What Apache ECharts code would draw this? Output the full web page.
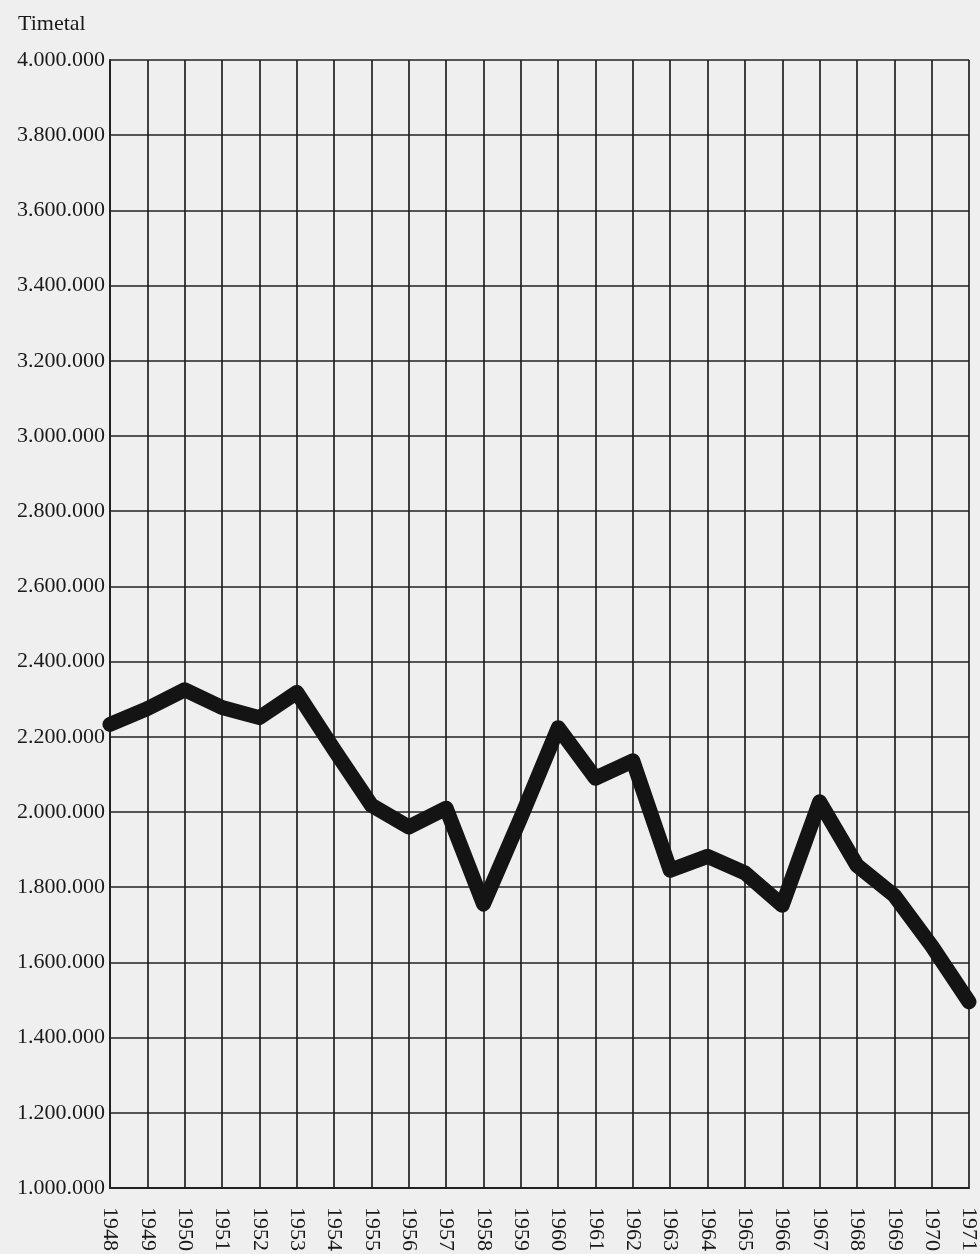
<!DOCTYPE html>
<html>
<head>
<meta charset="utf-8">
<script src="https://cdn.jsdelivr.net/npm/echarts@6/dist/echarts.min.js"></script>
<style>
html,body{margin:0;padding:0;background:#efefef;}
#chart{width:980px;height:1254px;}
</style>
</head>
<body>
<div id="chart"></div>
<script>
var years = ['1948','1949','1950','1951','1952','1953','1954','1955','1956','1957','1958','1959','1960','1961','1962','1963','1964','1965','1966','1967','1968','1969','1970','1971'];
var timetal = [2233000,2275000,2325000,2278000,2251000,2318000,2166000,2018000,1960000,2010000,1755000,1985000,2224000,2090000,2136000,1845000,1882000,1838000,1752000,2027000,1858000,1778000,1644000,1495000];
var yMin = 1000000;
var yMax = 4000000;
var yStep = 200000;
var yTitle = 'Timetal';

function fmt(v){
  return String(v).replace(/\B(?=(\d{3})+(?!\d))/g, '.');
}

var chart = echarts.init(document.getElementById('chart'), null, {renderer:'canvas'});
chart.setOption({
  backgroundColor: '#efefef',
  animation: false,
  title: {
    text: yTitle,
    left: 13, top: 8,
    textStyle: {fontFamily: 'Liberation Serif', fontSize: 22, fontWeight: 'normal', color: '#1a1a1a'}
  },
  grid: {left: 110, right: 3, top: 60, bottom: 66, containLabel: false},
  xAxis: {
    type: 'category',
    data: years,
    boundaryGap: false,
    axisLine: {show: true, lineStyle: {color: '#222', width: 2}},
    axisTick: {show: false},
    axisLabel: {
      interval: 0, rotate: -90, margin: 19,
      fontFamily: 'Liberation Serif', fontSize: 22, color: '#1a1a1a'
    },
    splitLine: {show: true, interval: 0, lineStyle: {color: '#222', width: 1.7}}
  },
  yAxis: {
    type: 'value',
    min: yMin, max: yMax, interval: yStep,
    axisLine: {show: true, lineStyle: {color: '#222', width: 2}},
    axisTick: {show: false},
    axisLabel: {
      margin: 5,
      fontFamily: 'Liberation Serif', fontSize: 22, color: '#1a1a1a',
      formatter: function(v){ return fmt(v); }
    },
    splitLine: {show: true, lineStyle: {color: '#222', width: 1.7}}
  },
  series: [{
    type: 'line',
    data: timetal,
    symbol: 'none',
    smooth: false,
    lineStyle: {color: '#141414', width: 15, cap: 'round', join: 'round'}
  }]
});
</script>
</body>
</html>
